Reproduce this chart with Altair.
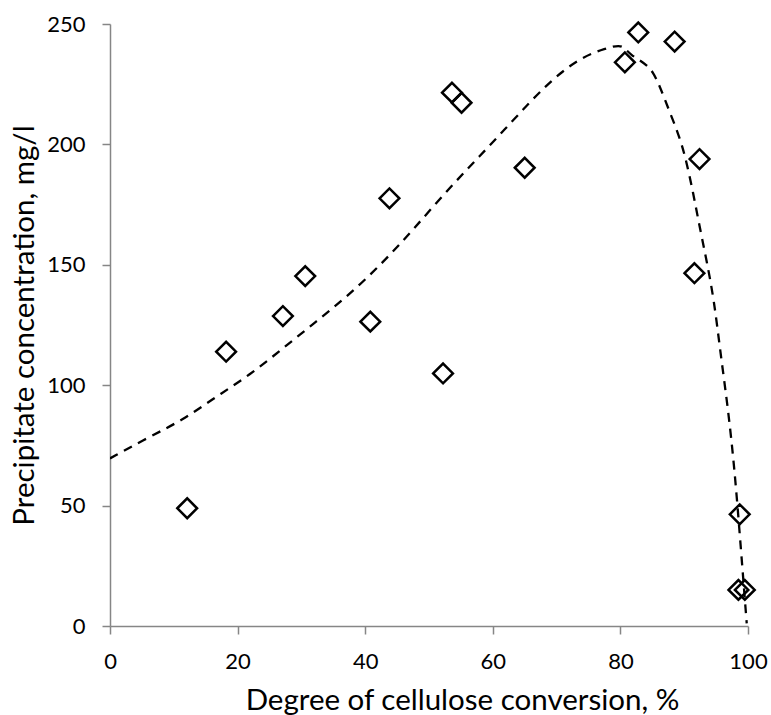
import altair as alt
import pandas as pd

# Measured points: degree of cellulose conversion (%) vs precipitate concentration (mg/l)
conversion = [12.1, 18.2, 27.1, 30.6, 40.8, 43.8, 52.2, 53.6, 55.1, 65.0,
              80.7, 82.8, 88.5, 91.6, 92.4, 98.7, 98.5, 99.5]
precipitate = [48.9, 113.9, 128.7, 145.3, 126.4, 177.6, 104.9, 221.5, 217.3, 190.3,
               234.1, 246.5, 242.7, 146.5, 193.9, 46.4, 15.0, 15.0]

# Trend curve drawn as a dashed line
trend_x = [0, 6.2, 11.4, 16.6, 21.9, 27.1, 32.3, 37.5, 42.8, 47.5, 52.7, 57.9,
           63.2, 68.4, 73.6, 77.8, 79.9, 80.7, 81.7, 83.0, 84.1, 85.1, 86.2, 87.2,
           89.3, 90.3, 91.4, 92.4, 93.5, 94.7, 95.7, 96.9, 97.9, 98.7, 99.8]
trend_y = [69.6, 78.6, 85.5, 95.2, 104.2, 115.3, 126.4, 137.5, 151, 164.5, 180.5, 195,
           210, 225, 236, 240, 241.3, 239.9, 237.1, 235.0, 232.9, 230.2, 224, 217,
           203, 193.5, 180, 166, 152, 135, 113, 89.7, 64.8, 38.5, 1.1]

x_ticks = [0, 20, 40, 60, 80, 100]
y_ticks = [0, 50, 100, 150, 200, 250]

points = pd.DataFrame({"x": conversion, "y": precipitate})
trend = pd.DataFrame({"x": trend_x, "y": trend_y})

FONT = "Lato"
AXIS_GREY = "#868686"

x_scale = alt.Scale(domain=[0, 100], nice=False, zero=False)
y_scale = alt.Scale(domain=[0, 250], nice=False, zero=False)

x_axis = alt.Axis(
    title="Degree of cellulose conversion, %",
    values=x_ticks, grid=False, labelFlush=False,
    domainColor=AXIS_GREY, domainWidth=1.5,
    tickColor=AXIS_GREY, tickWidth=1.5, tickSize=8,
    labelFont=FONT, labelFontSize=22, labelColor="black", labelPadding=17,
    titleFont=FONT, titleFontSize=29.5, titleFontWeight="normal", titleColor="black",
    titleX=352, titleY=83, titleAlign="center", titleBaseline="alphabetic",
)
y_axis = alt.Axis(
    title="Precipitate concentration, mg/l",
    values=y_ticks, grid=False, labelFlush=False,
    domainColor=AXIS_GREY, domainWidth=1.5,
    tickColor=AXIS_GREY, tickWidth=1.5, tickSize=8,
    labelFont=FONT, labelFontSize=22, labelColor="black", labelPadding=17,
    titleFont=FONT, titleFontSize=29.5, titleFontWeight="normal", titleColor="black",
    titleX=-77, titleY=301, titleAngle=270, titleAlign="center", titleBaseline="alphabetic",
)

curve = alt.Chart(trend).mark_line(
    color="black", strokeWidth=2.3, strokeDash=[9, 7], interpolate="basis", clip=True
).encode(
    x=alt.X("x:Q", scale=x_scale, axis=x_axis),
    y=alt.Y("y:Q", scale=y_scale, axis=y_axis),
)

markers = alt.Chart(points).mark_point(
    shape="diamond", filled=False, stroke="black", strokeWidth=2.5, size=390, opacity=1
).encode(
    x=alt.X("x:Q", scale=x_scale),
    y=alt.Y("y:Q", scale=y_scale),
)

chart = alt.layer(curve, markers).properties(
    width=638,
    height=602,
    autosize="none",
    padding={"left": 110, "top": 24, "right": 23, "bottom": 89},
    background="white",
).configure_view(stroke=None)

chart.save("out.html", embed_options={"renderer": "svg", "actions": False})
